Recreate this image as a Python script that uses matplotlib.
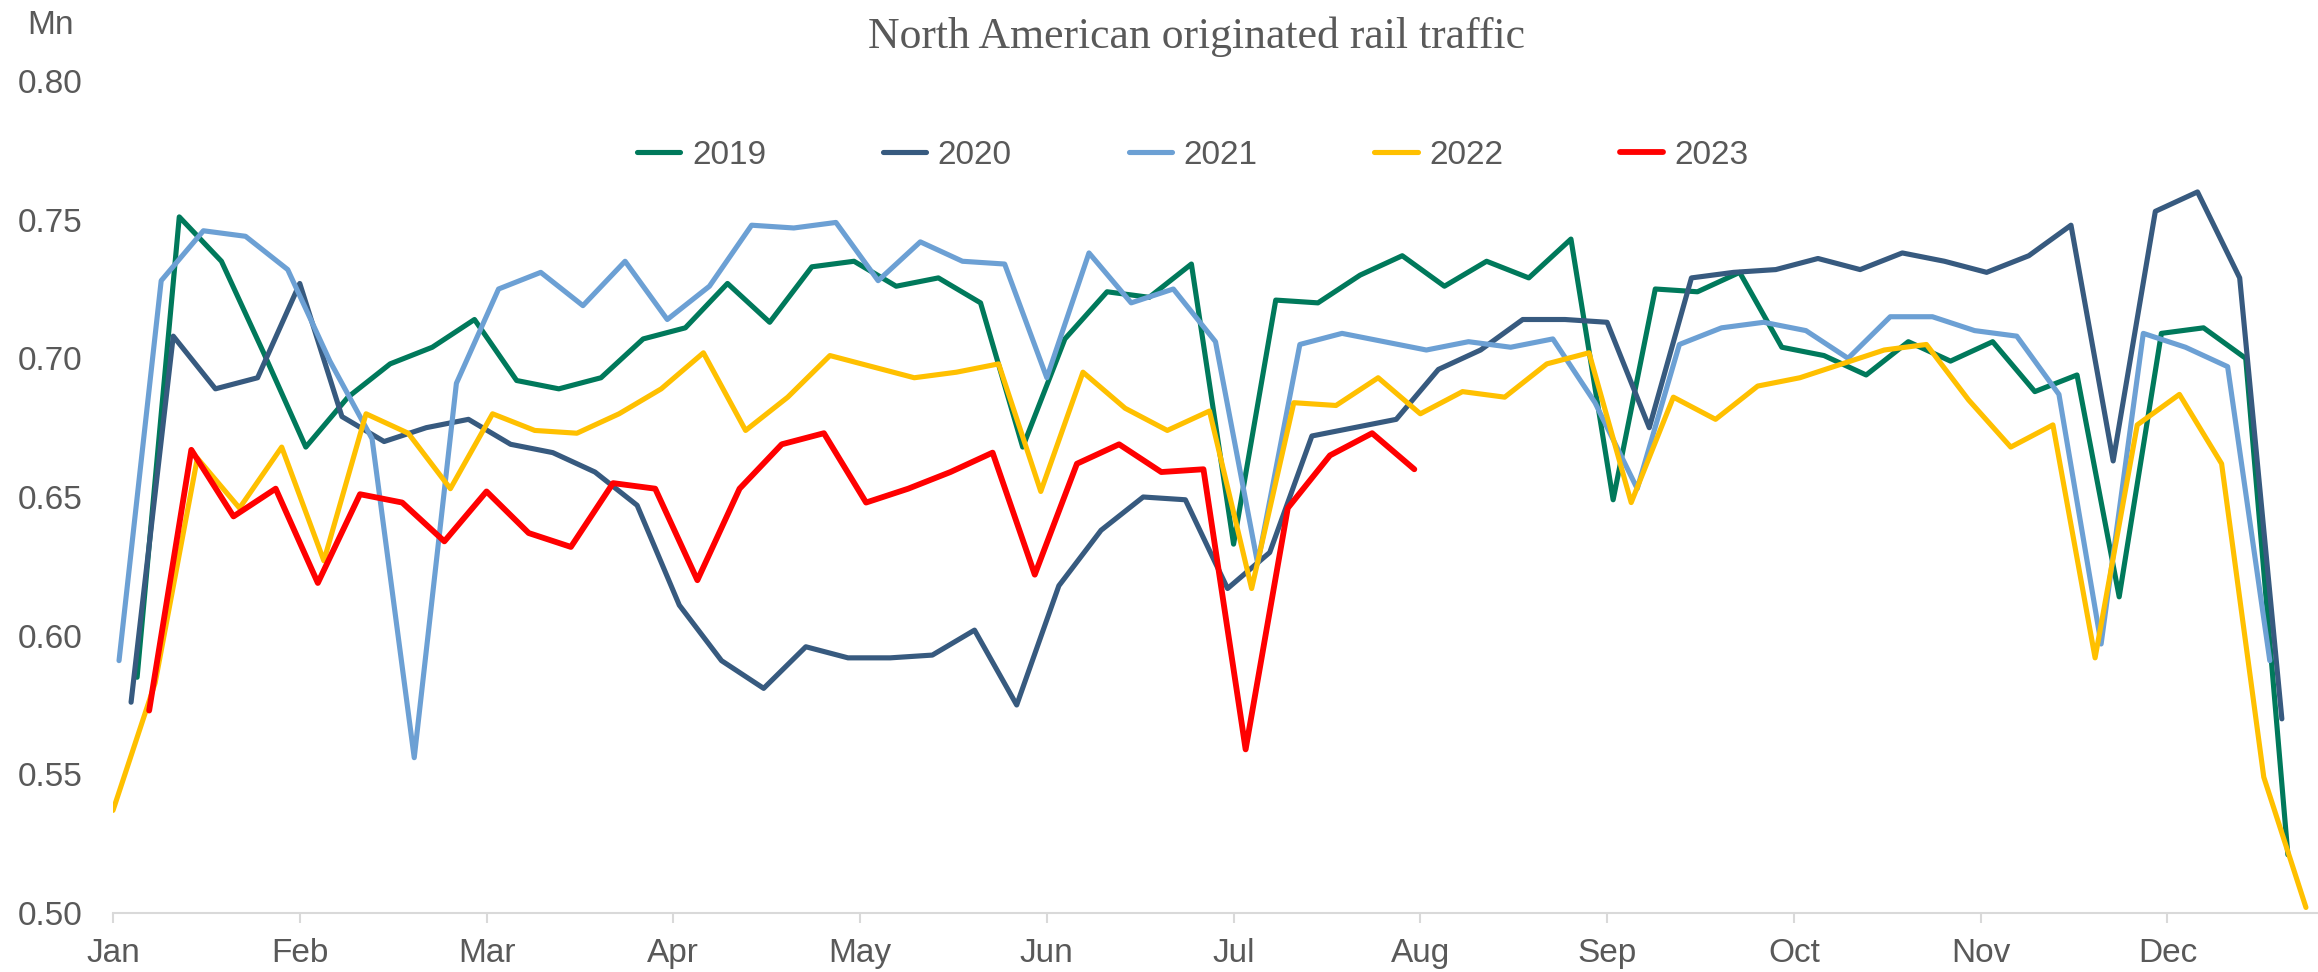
import matplotlib
matplotlib.use("Agg")
import matplotlib.pyplot as plt
import pandas as pd

# weekly originated rail traffic, millions (week ending Saturday)
starts = {"2019": "2019-01-05", "2020": "2020-01-04", "2021": "2021-01-02",
          "2022": "2022-01-01", "2023": "2023-01-07"}

v2019 = [0.585, 0.751, 0.735, 0.702, 0.668, 0.686, 0.698, 0.704, 0.714, 0.692,
         0.689, 0.693, 0.707, 0.711, 0.727, 0.713, 0.733, 0.735, 0.726, 0.729,
         0.720, 0.668, 0.707, 0.724, 0.722, 0.734, 0.633, 0.721, 0.720, 0.730,
         0.737, 0.726, 0.735, 0.729, 0.743, 0.649, 0.725, 0.724, 0.731, 0.704,
         0.701, 0.694, 0.706, 0.699, 0.706, 0.688, 0.694, 0.614, 0.709, 0.711,
         0.700, 0.521]
v2020 = [0.576, 0.708, 0.689, 0.693, 0.727, 0.679, 0.670, 0.675, 0.678, 0.669,
         0.666, 0.659, 0.647, 0.611, 0.591, 0.581, 0.596, 0.592, 0.592, 0.593,
         0.602, 0.575, 0.618, 0.638, 0.650, 0.649, 0.617, 0.630, 0.672, 0.675,
         0.678, 0.696, 0.703, 0.714, 0.714, 0.713, 0.675, 0.729, 0.731, 0.732,
         0.736, 0.732, 0.738, 0.735, 0.731, 0.737, 0.748, 0.663, 0.753, 0.760,
         0.729, 0.570]
v2021 = [0.591, 0.728, 0.746, 0.744, 0.732, 0.699, 0.671, 0.556, 0.691, 0.725,
         0.731, 0.719, 0.735, 0.714, 0.726, 0.748, 0.747, 0.749, 0.728, 0.742,
         0.735, 0.734, 0.693, 0.738, 0.720, 0.725, 0.706, 0.626, 0.705, 0.709,
         0.706, 0.703, 0.706, 0.704, 0.707, 0.684, 0.653, 0.705, 0.711, 0.713,
         0.710, 0.700, 0.715, 0.715, 0.710, 0.708, 0.687, 0.597, 0.709, 0.704,
         0.697, 0.591]
v2022 = [0.537, 0.583, 0.664, 0.646, 0.668, 0.627, 0.680, 0.673, 0.653, 0.680,
         0.674, 0.673, 0.680, 0.689, 0.702, 0.674, 0.686, 0.701, 0.697, 0.693,
         0.695, 0.698, 0.652, 0.695, 0.682, 0.674, 0.681, 0.617, 0.684, 0.683,
         0.693, 0.680, 0.688, 0.686, 0.698, 0.702, 0.648, 0.686, 0.678, 0.690,
         0.693, 0.698, 0.703, 0.705, 0.685, 0.668, 0.676, 0.592, 0.676, 0.687,
         0.662, 0.549, 0.502]
v2023 = [0.573, 0.667, 0.643, 0.653, 0.619, 0.651, 0.648, 0.634, 0.652, 0.637,
         0.632, 0.655, 0.653, 0.620, 0.653, 0.669, 0.673, 0.648, 0.653, 0.659,
         0.666, 0.622, 0.662, 0.669, 0.659, 0.660, 0.559, 0.646, 0.665, 0.673,
         0.660]

series = {"2019": v2019, "2020": v2020, "2021": v2021, "2022": v2022, "2023": v2023}
colors = {"2019": "#00795b", "2020": "#375a7f", "2021": "#6ca0d4",
          "2022": "#ffc000", "2023": "#ff0000"}

month_labels = ["Jan", "Feb", "Mar", "Apr", "May", "Jun",
                "Jul", "Aug", "Sep", "Oct", "Nov", "Dec"]
y_ticks = [0.50, 0.55, 0.60, 0.65, 0.70, 0.75, 0.80]

grey = "#595959"
plt.rcParams["font.family"] = ["Liberation Sans", "DejaVu Sans"]

fig = plt.figure(figsize=(23.18, 9.72), dpi=100)
ax = fig.add_axes([0.04875, 0.0607, 0.95125, 0.85597])

for year, vals in series.items():
    dates = pd.date_range(starts[year], periods=len(vals), freq="7D")
    x = dates.dayofyear - 1
    lw = 4.2 if year == "2023" else 3.7
    ax.plot(x, vals, color=colors[year], lw=lw, label=year,
            solid_capstyle="round", solid_joinstyle="round")

# excel style date axis: a label every 31 days
ax.set_xlim(0, 366)
ax.set_ylim(0.5, 0.8)
ax.set_xticks([31 * i for i in range(12)])
ax.set_xticklabels(month_labels)
ax.set_yticks(y_ticks)
ax.set_yticklabels([f"{v:.2f}" for v in y_ticks])

for s in ["top", "right", "left"]:
    ax.spines[s].set_visible(False)
ax.spines["bottom"].set_color("#d9d9d9")
ax.spines["bottom"].set_linewidth(1.5)

ax.tick_params(axis="x", direction="out", length=7, width=1.5, color="#d9d9d9",
               labelsize=24, labelcolor=grey, pad=11)
ax.tick_params(axis="y", length=0, labelsize=24, labelcolor=grey, pad=22)

fig.text(50 / 2318, 1 - 25 / 972, "Mn", fontsize=24, color=grey,
         ha="center", va="center")
fig.text(1197 / 2318, 1 - 37 / 972, "North American originated rail traffic",
         fontsize=31.5, color=grey, ha="center", va="center",
         family=["Liberation Serif", "DejaVu Serif"])

fig.legend(loc="center", bbox_to_anchor=(1193 / 2318, 1 - 155 / 972), ncol=5,
           frameon=False, fontsize=24, labelcolor=grey, handlelength=1.3,
           handletextpad=0.35, columnspacing=3.5)

fig.savefig("out.png", dpi=100)
